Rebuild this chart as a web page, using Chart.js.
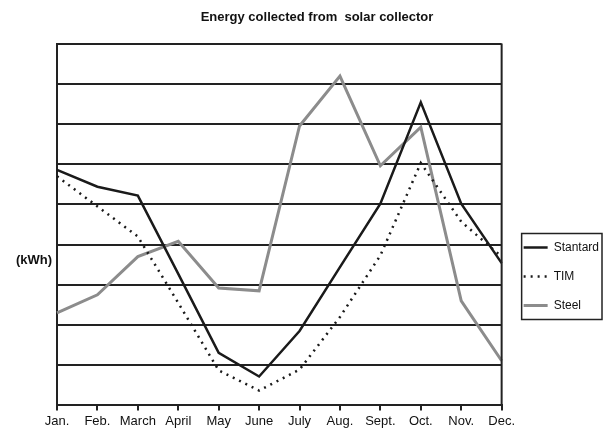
<!DOCTYPE html>
<html>
<head>
<meta charset="utf-8">
<script src="https://cdn.jsdelivr.net/npm/chart.js@4"></script>
<style>
  html, body { margin: 0; padding: 0; background: #fff; }
  #wrap { width: 608px; height: 434px; }
</style>
</head>
<body>
<div id="wrap"><canvas id="solarChart"></canvas></div>
<script>
const months = ["Jan.", "Feb.", "March", "April", "May", "June", "July", "Aug.", "Sept.", "Oct.", "Nov.", "Dec."];
const standard = [58.6, 54.4, 52.2, 32.7, 13.1, 7.2, 18.5, 34.4, 50.2, 75.4, 50.2, 35.4];
const tim = [57, 49.5, 42, 25.5, 8.7, 3.7, 8.9, 22, 37.3, 60.3, 45.7, 37];
const steel = [23, 27.5, 37, 40.8, 29.2, 28.5, 69.5, 81.9, 59.6, 69.2, 26, 11.1];

const FONT = "'Liberation Sans Narrow', 'Liberation Sans', Arial, sans-serif";

// frame on the right side, unit label and box round the legend
const extras = {
  id: "extras",
  afterLayout(chart) {
    const lg = chart.legend;
    lg.top += 52;
    lg.bottom += 52;
    lg.left += 5;
    lg.right += 5;
  },
  afterDraw(chart) {
    const { ctx, chartArea } = chart;
    ctx.save();
    ctx.strokeStyle = "#222";
    ctx.lineWidth = 2;
    ctx.beginPath();
    ctx.moveTo(chartArea.right, chartArea.top);
    ctx.lineTo(chartArea.right, chartArea.bottom);
    ctx.stroke();

    ctx.fillStyle = "#111";
    ctx.font = "bold 13px " + FONT;
    ctx.textAlign = "right";
    ctx.textBaseline = "middle";
    ctx.fillText("(kWh)", chartArea.left - 5, chartArea.top + (chartArea.bottom - chartArea.top) * 0.6);

    const boxes = chart.legend.legendHitBoxes;
    if (boxes && boxes.length) {
      let l = Infinity, t = Infinity, r = -Infinity, b = -Infinity;
      boxes.forEach(h => {
        l = Math.min(l, h.left); t = Math.min(t, h.top);
        r = Math.max(r, h.left + h.width); b = Math.max(b, h.top + h.height);
      });
      ctx.lineWidth = 1.5;
      ctx.strokeRect(l - 2, t - 8, r - l + 5, b - t + 16);
    }
    ctx.restore();
  }
};

const ctx = document.getElementById("solarChart").getContext("2d");
const chart = new Chart(ctx, {
  type: "line",
  data: {
    labels: months,
    datasets: [
      {
        label: "Stantard",
        data: standard,
        borderColor: "#1a1a1a",
        borderWidth: 2.5,
        pointRadius: 0,
        tension: 0
      },
      {
        label: "TIM",
        data: tim,
        borderColor: "#1a1a1a",
        borderWidth: 2.5,
        borderDash: [2, 5],
        pointRadius: 0,
        tension: 0
      },
      {
        label: "Steel",
        data: steel,
        borderColor: "#8c8c8c",
        borderWidth: 3,
        pointRadius: 0,
        tension: 0
      }
    ]
  },
  options: {
    responsive: true,
    maintainAspectRatio: false,
    animation: false,
    layout: { padding: { left: 30, right: 4, top: 0, bottom: 2 } },
    plugins: {
      title: {
        display: true,
        text: "Energy collected from  solar collector",
        color: "#111",
        font: { family: FONT, size: 13, weight: "bold" },
        padding: { top: 10, bottom: 18 }
      },
      legend: {
        position: "right",
        fullSize: false,
        labels: {
          color: "#111",
          font: { family: FONT, size: 12 },
          usePointStyle: true,
          pointStyle: "line",
          pointStyleWidth: 24,
          padding: 17,
          generateLabels(chart) {
            const items = Chart.defaults.plugins.legend.labels.generateLabels(chart);
            items.forEach(item => {
              const ds = chart.data.datasets[item.datasetIndex];
              item.lineDash = ds.borderDash || [];
              item.lineWidth = ds.borderWidth;
              item.strokeStyle = ds.borderColor;
            });
            return items;
          }
        }
      },
      tooltip: { enabled: false }
    },
    scales: {
      x: {
        offset: false,
        grid: { drawOnChartArea: false, drawTicks: true, tickLength: 5, color: "#222", lineWidth: 2 },
        border: { display: true, color: "#222", width: 2 },
        ticks: { color: "#111", font: { family: FONT, size: 13 }, padding: 3, maxRotation: 0, autoSkip: false }
      },
      y: {
        min: 0,
        max: 90,
        ticks: { display: false, stepSize: 10 },
        grid: { color: "#222", lineWidth: 2, drawTicks: false },
        border: { display: true, color: "#222", width: 2 },
        afterFit(scale) { scale.width = 27; }
      }
    }
  },
  plugins: [extras]
});
</script>
</body>
</html>
